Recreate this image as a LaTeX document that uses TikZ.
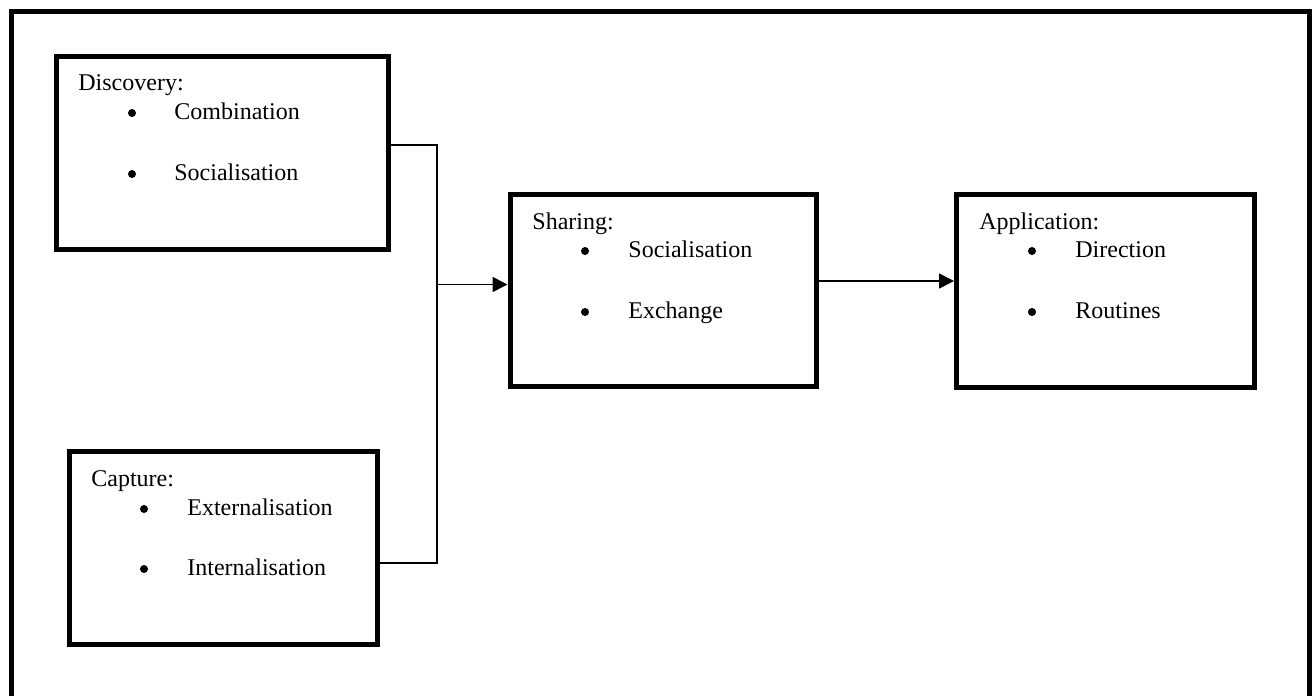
\documentclass[tikz,border=0pt]{standalone}
\usepackage{fontspec}
\setmainfont{Liberation Serif}
\usetikzlibrary{arrows.meta}
\begin{document}
\begin{tikzpicture}[x=0.5pt,y=-0.5pt,
  stagebox/.style={draw, line width=2.5pt, rectangle, inner sep=0pt},
  conn/.style={line width=0.8pt},
  arr/.style={line width=0.8pt, -{Triangle[length=7.5pt,width=7.5pt]}},
  lbl/.style={inner sep=0pt, anchor=base west, font=\fontsize{12pt}{14pt}\selectfont},
  bul/.style={circle, fill=black, inner sep=0pt, minimum size=4pt}]
\useasboundingbox (0,0) rectangle (1312,696);
\draw[line width=2.4pt] (11.5,11.5) rectangle (1309.5,710);

% boxes
\node[stagebox, minimum width=166pt, minimum height=96.75pt] (disc) at (222.5,152.75) {};
\node[stagebox, minimum width=154pt, minimum height=96.5pt] (capt) at (223,548) {};
\node[stagebox, minimum width=153pt, minimum height=96pt] (shar) at (663,290.5) {};
\node[stagebox, minimum width=148.75pt, minimum height=96.25pt] (appl) at (1105.25,290.75) {};

% Discovery text
\node[lbl] (t1) at (78,90) {Discovery:};
\node[bul] (b11) at (132,113) {};
\node[lbl] (t11) at (174,119) {Combination};
\node[bul] (b12) at (132,174) {};
\node[lbl] (t12) at (174,180) {Socialisation};

% Capture text
\node[lbl] (t2) at (91,486) {Capture:};
\node[bul] (b21) at (144,509) {};
\node[lbl] (t21) at (187,515) {Externalisation};
\node[bul] (b22) at (144,569) {};
\node[lbl] (t22) at (187,575) {Internalisation};

% Sharing text
\node[lbl] (t3) at (532,229) {Sharing:};
\node[bul] (b31) at (585,251) {};
\node[lbl] (t31) at (628,257) {Socialisation};
\node[bul] (b32) at (585,312) {};
\node[lbl] (t32) at (628,318) {Exchange};

% Application text
\node[lbl] (t4) at (979,229) {Application:};
\node[bul] (b41) at (1032,251) {};
\node[lbl] (t41) at (1075,257) {Direction};
\node[bul] (b42) at (1032,312) {};
\node[lbl] (t42) at (1075,318) {Routines};

% connectors
\coordinate (j1) at (437,145);
\coordinate (j2) at (437,563);
\coordinate (j3) at (437,284.5);
\draw[conn] (disc.east |- j1) -- (j1) -- (j2) -- (capt.east |- j2);
\draw[arr] (j3) -- (shar.west |- j3);
\coordinate (j4) at (816,281);
\draw[arr] (shar.east |- j4) -- (appl.west |- j4);
\end{tikzpicture}
\end{document}
